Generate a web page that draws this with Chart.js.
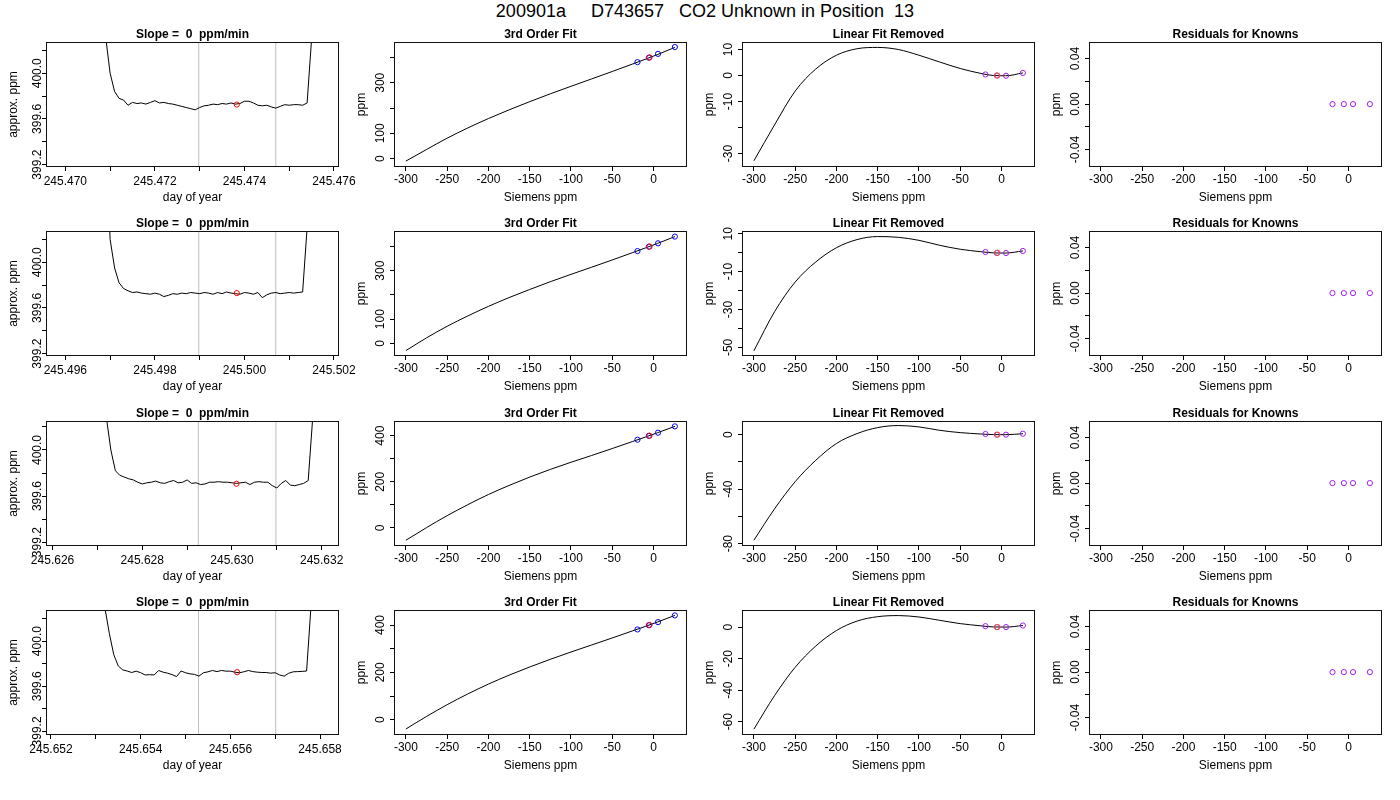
<!DOCTYPE html>
<html>
<head>
<meta charset="utf-8">
<script src="https://cdn.jsdelivr.net/npm/chart.js@4.4.1/dist/chart.umd.min.js"></script>
<style>
  body { margin: 0; width: 1400px; height: 800px; background: #fff; position: relative; overflow: hidden; }
  #main { position: absolute; left: 5px; top: 0; width: 1400px; text-align: center; font: 18px "Liberation Sans", Arial, sans-serif; line-height: 23px; white-space: pre; color: #000; }
  canvas { position: absolute; }
</style>
</head>
<body>
<div id="main">200901a     D743657   CO2 Unknown in Position  13</div>
<script>
// time series, one per row (day of year / approx. ppm)
const times1 = [245.4708,245.4709,245.4710,245.4711,245.4712,245.4713,245.4714,245.4715,245.4716,245.4717,245.4718,245.4719,245.4720,245.4721,245.4722,245.4723,245.4724,245.4725,245.4726,245.4727,245.4728,245.4729,245.4730,245.4731,245.4732,245.4733,245.4734,245.4735,245.4736,245.4737,245.4738,245.4739,245.4740,245.4741,245.4742,245.4743,245.4744,245.4745,245.4746,245.4747,245.4748,245.4749,245.4750,245.4751,245.4752,245.4753,245.4754,245.4755,245.4756];
const ppm1 = [401.2,400.32,400.00,399.84,399.78,399.765,399.72,399.745,399.735,399.74,399.73,399.745,399.76,399.74,399.745,399.735,399.73,399.72,399.71,399.70,399.69,399.68,399.70,399.715,399.72,399.73,399.725,399.735,399.73,399.74,399.73,399.735,399.755,399.755,399.74,399.72,399.715,399.72,399.705,399.695,399.71,399.725,399.72,399.725,399.725,399.72,399.74,400.30,401.2];

const times2 = [245.4969,245.4970,245.4971,245.4972,245.4973,245.4974,245.4975,245.4976,245.4977,245.4978,245.4979,245.4980,245.4981,245.4982,245.4983,245.4984,245.4985,245.4986,245.4987,245.4988,245.4989,245.4990,245.4991,245.4992,245.4993,245.4994,245.4995,245.4996,245.4997,245.4998,245.4999,245.5000,245.5001,245.5002,245.5003,245.5004,245.5005,245.5006,245.5007,245.5008,245.5009,245.5010,245.5011,245.5012,245.5013,245.5014,245.5015];
const ppm2 = [401.2,400.20,399.95,399.82,399.77,399.75,399.735,399.74,399.73,399.725,399.72,399.73,399.72,399.70,399.71,399.725,399.72,399.73,399.725,399.735,399.73,399.725,399.735,399.73,399.72,399.735,399.725,399.74,399.73,399.725,399.72,399.735,399.73,399.72,399.735,399.69,399.715,399.73,399.735,399.725,399.73,399.735,399.73,399.735,399.74,400.30,401.2];

const times3 = [245.6271,245.6272,245.6273,245.6274,245.6275,245.6276,245.6277,245.6278,245.6279,245.6280,245.6281,245.6282,245.6283,245.6284,245.6285,245.6286,245.6287,245.6288,245.6289,245.6290,245.6291,245.6292,245.6293,245.6294,245.6295,245.6296,245.6297,245.6298,245.6299,245.6300,245.6301,245.6302,245.6303,245.6304,245.6305,245.6306,245.6307,245.6308,245.6309,245.6310,245.6311,245.6312,245.6313,245.6314,245.6315,245.6316,245.6317,245.6318,245.6319];
const ppm3 = [401.2,400.28,400.00,399.82,399.78,399.765,399.75,399.74,399.72,399.705,399.715,399.72,399.73,399.715,399.71,399.725,399.735,399.715,399.72,399.74,399.71,399.715,399.70,399.705,399.72,399.72,399.725,399.72,399.72,399.715,399.71,399.715,399.72,399.70,399.72,399.725,399.72,399.72,399.69,399.67,399.71,399.735,399.695,399.69,399.70,399.71,399.735,400.28,401.2];

const times4 = [245.6531,245.6532,245.6533,245.6534,245.6535,245.6536,245.6537,245.6538,245.6539,245.6540,245.6541,245.6542,245.6543,245.6544,245.6545,245.6546,245.6547,245.6548,245.6549,245.6550,245.6551,245.6552,245.6553,245.6554,245.6555,245.6556,245.6557,245.6558,245.6559,245.6560,245.6561,245.6562,245.6563,245.6564,245.6565,245.6566,245.6567,245.6568,245.6569,245.6570,245.6571,245.6572,245.6573,245.6574,245.6575,245.6576,245.6577,245.6578,245.6579];
const ppm4 = [401.2,400.30,400.07,399.88,399.78,399.745,399.735,399.722,399.734,399.72,399.70,399.703,399.70,399.74,399.725,399.716,399.703,399.686,399.735,399.72,399.71,399.705,399.69,399.72,399.728,399.74,399.73,399.74,399.734,399.734,399.725,399.72,399.728,399.74,399.73,399.725,399.722,399.722,399.716,399.72,399.70,399.69,399.715,399.728,399.73,399.732,399.735,400.32,401.2];

// red marker and averaging window (grey lines) per row
const unknownTime = [245.47383, 245.49983, 245.63010, 245.65615];
const unknownPpm = [399.726, 399.730, 399.707, 399.725];
const windowStart = [245.47298, 245.49898, 245.62925, 245.65529];
const windowEnd = [245.47470, 245.50070, 245.63098, 245.65701];

// fit curves vs Siemens ppm
const fitX = [-300,-275,-250,-225,-200,-175,-150,-125,-100,-75,-50,-25,-10,5,26];
const fit3rd1 = [-9.8,35.9,80.8,121.2,158.4,192.8,225.2,256.3,286.0,315.3,344.7,374.7,393.0,412.1,440.0];
const fit3rd2 = [-29.9,22.8,70.5,113.2,152.7,189.0,222.4,254.5,284.8,314.3,344.2,375.0,393.6,412.7,440.7];
const fit3rd3 = [-53.7,1.2,53.1,100.7,144.9,184.1,220.4,253.8,284.7,314.1,344.3,375.2,393.9,413.0,440.5];
const fit3rd4 = [-39.4,13.6,63.4,108.7,150.3,188.0,222.6,255.1,286.0,315.6,345.3,375.7,394.0,413.0,440.7];
const fitLin1 = [-32.8,-19.0,-6.0,2.5,7.8,10.3,10.8,10.0,7.8,5.2,2.7,0.8,0.0,-0.1,1.0];
const fitLin2 = [-51.8,-31.2,-15.5,-4.9,2.6,6.9,8.5,8.1,6.5,3.9,1.8,0.5,-0.1,-0.2,0.9];
const fitLin3 = [-77.5,-54.5,-34.5,-18.8,-6.5,0.8,5.2,6.7,5.7,3.2,1.5,0.5,0.05,0.0,0.7];
const fitLin4 = [-64.7,-43.5,-25.5,-12.0,-2.2,3.8,6.6,7.3,6.4,4.3,2.2,0.8,0.1,0.0,1.0];

// known standards and the unknown
const knownX = [-19.4, -5.6, 5.5, 25.9];
const known3rd = [[381.8,399.5,414.5,441.5],[381.0,399.2,413.0,440.7],[382.5,399.5,413.0,440.5],[381.4,399.3,412.3,440.7]];
const knownLin = [[0.4,0.0,-0.1,1.0],[0.35,-0.2,-0.2,0.9],[0.5,0.0,0.0,0.7],[0.6,0.0,0.0,1.0]];
const knownResid = [0.00, 0.00, 0.00, 0.00];
const unknownX = -4.8;
const unknown3rd = [400.5, 399.5, 400.0, 400.0];
const unknownLin = [0.0, 0.0, 0.0, 0.0];

// axis ticks / labels
const dayTicks = [[245.470,245.471,245.472,245.473,245.474,245.475,245.476],
                  [245.496,245.497,245.498,245.499,245.500,245.501,245.502],
                  [245.626,245.627,245.628,245.629,245.630,245.631,245.632],
                  [245.652,245.653,245.654,245.655,245.656,245.657,245.658]];
const dayLabels = [['245.470','245.472','245.474','245.476'],['245.496','245.498','245.500','245.502'],
                   ['245.626','245.628','245.630','245.632'],['245.652','245.654','245.656','245.658']];
const dayRange = [[245.46959,245.47609],[245.49559,245.50209],[245.625876,245.632364],[245.651911,245.6584]];
const ppmTicks = [399.2,399.4,399.6,399.8,400.0,400.2];
const ppmLabels = ['399.2','399.6','400.0'];
const ppmRange = [[399.188,400.265],[399.188,400.265],[399.175,400.243],[399.177,400.267]];
const siemensTicks = [-300,-250,-200,-150,-100,-50,0];
const siemensLabels = ['-300','-250','-200','-150','-100','-50','0'];
const siemensRange = [-313.2, 39.4];
const fit3rdTicks = [0,100,200,300,400];
const fit3rdLabels = [['0','100','300'],['0','100','300'],['0','200','400'],['0','200','400']];
const fit3rdRange = [[-29.4,457.5],[-48,459.7],[-74.2,459.4],[-60.6,459.3]];
const linTicks = [[-30,-20,-10,0,10],[-50,-40,-30,-20,-10,0,10],[-80,-60,-40,-20,0],[-60,-40,-20,0]];
const linLabels = [['-30','-10','0','10'],['-50','-30','-10','10'],['-80','-40','0'],['-60','-40','-20','0']];
const linRange = [[-34.8,12.5],[-54,10.9],[-81,9.3],[-67.8,10.2]];
const residTicks = [-0.04,-0.02,0,0.02,0.04];
const residLabels = ['-0.04','0.00','0.04'];
const residRange = [-0.0544, 0.0537];

const rowTimes = [times1, times2, times3, times4];
const rowPpm = [ppm1, ppm2, ppm3, ppm4];
const row3rd = [fit3rd1, fit3rd2, fit3rd3, fit3rd4];
const rowLin = [fitLin1, fitLin2, fitLin3, fitLin4];

const boxLeft = [47, 395, 743, 1090];
const boxTop = [43, 232, 422, 611];
const boxW = 291, boxH = 123, M = 46;
const FONT = '"Liberation Sans", Arial, sans-serif';

Chart.defaults.font.family = FONT;

function axis(range, ticks, dir) {
  return {
    type: 'linear', min: range[0], max: range[1], display: true,
    grid: { drawOnChartArea: false, drawTicks: true, tickLength: 5, color: '#000', lineWidth: 1 },
    border: { display: false },
    ticks: { display: false },
    title: { display: false },
    afterBuildTicks: s => { s.ticks = ticks.map(v => ({ value: v })); },
    afterFit: s => { if (dir === 'x') s.height = 0; else s.width = 0; }
  };
}

function pts(xs, ys) { return xs.map((x, i) => ({ x: x, y: ys[i] })); }

function curve(data, smooth) {
  return { data: data, showLine: true, pointRadius: 0, borderColor: '#000', borderWidth: 1,
           fill: false, cubicInterpolationMode: smooth ? 'monotone' : 'default', tension: 0 };
}

function marks(data, color) {
  return { data: data, showLine: false, pointRadius: 2.6, pointStyle: 'circle', pointBorderWidth: 1,
           pointBorderColor: color, pointBackgroundColor: 'rgba(0,0,0,0)' };
}

function makePanel(col, row, cfg) {
  const c = document.createElement('canvas');
  c.width = boxW + 2 * M;
  c.height = boxH + 2 * M;
  c.style.left = (boxLeft[col] - M) + 'px';
  c.style.top = (boxTop[row] - M) + 'px';
  document.body.appendChild(c);
  const textPlugin = {
    id: 'rtext' + col + row,
    afterDraw(chart) {
      const ctx = chart.ctx, a = chart.chartArea, xs = chart.scales.x, ys = chart.scales.y;
      ctx.save();
      ctx.strokeStyle = '#111';
      ctx.lineWidth = 1;
      ctx.strokeRect(a.left - 0.5, a.top - 0.5, a.right - a.left + 1, a.bottom - a.top + 1);
      ctx.fillStyle = '#000';
      ctx.textAlign = 'center';
      ctx.textBaseline = 'middle';
      ctx.font = 'bold 12px ' + FONT;
      ctx.fillText(cfg.title, (a.left + a.right) / 2, a.top - 8.5);
      ctx.font = '12px ' + FONT;
      cfg.xLabels.forEach(t => ctx.fillText(t, xs.getPixelForValue(parseFloat(t)), a.bottom + cfg.xOff));
      ctx.fillText(cfg.xTitle, (a.left + a.right) / 2, a.bottom + 31.5);
      cfg.yLabels.forEach(t => {
        ctx.save();
        ctx.translate(a.left - cfg.yOff, ys.getPixelForValue(parseFloat(t)));
        ctx.rotate(-Math.PI / 2);
        ctx.fillText(t, 0, 0);
        ctx.restore();
      });
      ctx.translate(a.left - 33.5, (a.top + a.bottom) / 2);
      ctx.rotate(-Math.PI / 2);
      ctx.fillText(cfg.yTitle, 0, 0);
      ctx.restore();
    }
  };
  new Chart(c, {
    type: 'scatter',
    data: { datasets: cfg.datasets },
    options: {
      responsive: false, animation: false, devicePixelRatio: 1,
      layout: { padding: M },
      plugins: { legend: { display: false }, tooltip: { enabled: false } },
      scales: { x: axis(cfg.xRange, cfg.xTicks, 'x'), y: axis(cfg.yRange, cfg.yTicks, 'y') }
    },
    plugins: [textPlugin]
  });
}

for (let r = 0; r < 4; r++) {
  const yr = ppmRange[r];
  makePanel(0, r, {
    title: 'Slope =  0  ppm/min', xTitle: 'day of year', yTitle: 'approx. ppm',
    xRange: dayRange[r], xTicks: dayTicks[r], xLabels: dayLabels[r], xOff: 15.5,
    yRange: yr, yTicks: ppmTicks, yLabels: ppmLabels, yOff: 9,
    datasets: [
      marks([{ x: unknownTime[r], y: unknownPpm[r] }], '#FF0000'),
      curve(pts(rowTimes[r], rowPpm[r]), false),
      { data: [{ x: windowStart[r], y: yr[0] }, { x: windowStart[r], y: yr[1] }], showLine: true, pointRadius: 0, borderColor: '#BEBEBE', borderWidth: 1 },
      { data: [{ x: windowEnd[r], y: yr[0] }, { x: windowEnd[r], y: yr[1] }], showLine: true, pointRadius: 0, borderColor: '#BEBEBE', borderWidth: 1 }
    ]
  });
  makePanel(1, r, {
    title: '3rd Order Fit', xTitle: 'Siemens ppm', yTitle: 'ppm',
    xRange: siemensRange, xTicks: siemensTicks, xLabels: siemensLabels, xOff: 13.4,
    yRange: fit3rdRange[r], yTicks: fit3rdTicks, yLabels: fit3rdLabels[r], yOff: 14.5,
    datasets: [
      marks([{ x: unknownX, y: unknown3rd[r] }], '#FF0000'),
      marks(pts(knownX, known3rd[r]), '#0000FF'),
      curve(pts(fitX, row3rd[r]), true)
    ]
  });
  makePanel(2, r, {
    title: 'Linear Fit Removed', xTitle: 'Siemens ppm', yTitle: 'ppm',
    xRange: siemensRange, xTicks: siemensTicks, xLabels: siemensLabels, xOff: 13.4,
    yRange: linRange[r], yTicks: linTicks[r], yLabels: linLabels[r], yOff: 14.5,
    datasets: [
      marks([{ x: unknownX, y: unknownLin[r] }], '#F06020'),
      marks(pts(knownX, knownLin[r]), '#A020F0'),
      curve(pts(fitX, rowLin[r]), true)
    ]
  });
  makePanel(3, r, {
    title: 'Residuals for Knowns', xTitle: 'Siemens ppm', yTitle: 'ppm',
    xRange: siemensRange, xTicks: siemensTicks, xLabels: siemensLabels, xOff: 13.4,
    yRange: residRange, yTicks: residTicks, yLabels: residLabels, yOff: 14.5,
    datasets: [ marks(pts(knownX, knownResid), '#A020F0') ]
  });
}
</script>
</body>
</html>
